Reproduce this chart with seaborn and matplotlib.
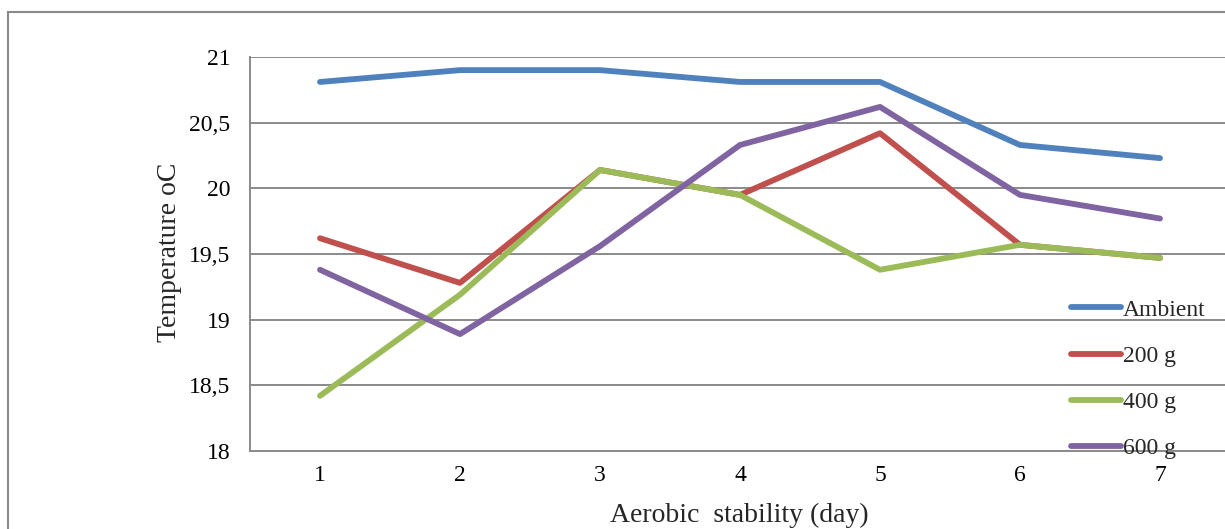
import matplotlib
matplotlib.use("Agg")
import matplotlib.pyplot as plt
import seaborn as sns
import pandas as pd
from matplotlib.patches import Rectangle

days = [1, 2, 3, 4, 5, 6, 7]
ambient = [20.81, 20.9, 20.9, 20.81, 20.81, 20.33, 20.23]
g200 = [19.62, 19.28, 20.14, 19.95, 20.42, 19.57, 19.47]
g400 = [18.42, 19.19, 20.14, 19.95, 19.38, 19.57, 19.47]
g600 = [19.38, 18.89, 19.56, 20.33, 20.62, 19.95, 19.77]
series_names = ["Ambient", "200 g", "400 g", "600 g"]
colors = ["#4F81BD", "#C0504D", "#9BBB59", "#8064A2"]
y_ticks = [18, 18.5, 19, 19.5, 20, 20.5, 21]
y_tick_labels = ["18", "18,5", "19", "19,5", "20", "20,5", "21"]

rows = []
for name, vals in zip(series_names, [ambient, g200, g400, g600]):
    for d, v in zip(days, vals):
        rows.append({"day": d, "temp": v, "series": name})
df = pd.DataFrame(rows)

sns.set_style("white")
plt.rcParams["font.family"] = ["Liberation Serif", "DejaVu Serif"]

fig = plt.figure(figsize=(12.25, 5.29), dpi=100)
ax = fig.add_axes([250 / 1225, 1 - 451 / 529, 980 / 1225, 394 / 529])

grid_c = "#8a8a8a"
lw = 4.2
sns.lineplot(data=df, x="day", y="temp", hue="series", hue_order=series_names,
             palette=colors, linewidth=lw, solid_capstyle="round", ax=ax,
             legend=True, zorder=3)

ax.set_xlim(0.5, 7.5)
ax.set_ylim(18, 21)
ax.set_yticks(y_ticks)
ax.set_yticklabels(y_tick_labels)
ax.set_xticks(days)
ax.set_xticklabels([str(d) for d in days])
ax.set_xticks([0.5 + i for i in range(8)], minor=True)
ax.tick_params(axis="x", which="major", length=0, pad=10, labelsize=17, colors="black")
ax.tick_params(axis="x", which="minor", length=5, width=1.3, color=grid_c, direction="out")
ax.tick_params(axis="y", which="major", length=5, width=1.3, color=grid_c,
               direction="out", pad=9, labelsize=17, labelcolor="black")
ax.yaxis.grid(True, color=grid_c, linewidth=1.4)
ax.set_axisbelow(True)
for s in ["top", "right"]:
    ax.spines[s].set_visible(False)
for s in ["left", "bottom"]:
    ax.spines[s].set_color(grid_c)
    ax.spines[s].set_linewidth(1.4)

ax.set_xlabel("Aerobic  stability (day)", fontsize=20)
ax.set_ylabel("Temperature oC", fontsize=20)
ax.xaxis.set_label_coords((739 - 250) / 980, (451 - 503) / 394)
ax.yaxis.set_label_coords((182 - 250) / 980, (451 - 252) / 394)

leg = ax.legend(loc="upper left", bbox_to_anchor=(1071 / 1225, 1 - 299 / 529),
                bbox_transform=fig.transFigure, frameon=False, fontsize=17,
                handlelength=2.1, handletextpad=0.1, labelspacing=1.05,
                borderpad=0, borderaxespad=0)
for line in leg.get_lines():
    line.set_linewidth(lw)
    line.set_solid_capstyle("round")

fig.patches.append(Rectangle((8 / 1225, -0.1), 1.2, 1 - 12 / 529 + 0.1,
                             transform=fig.transFigure, fill=False,
                             edgecolor=grid_c, linewidth=1.5))

fig.savefig("out.png", dpi=100)
